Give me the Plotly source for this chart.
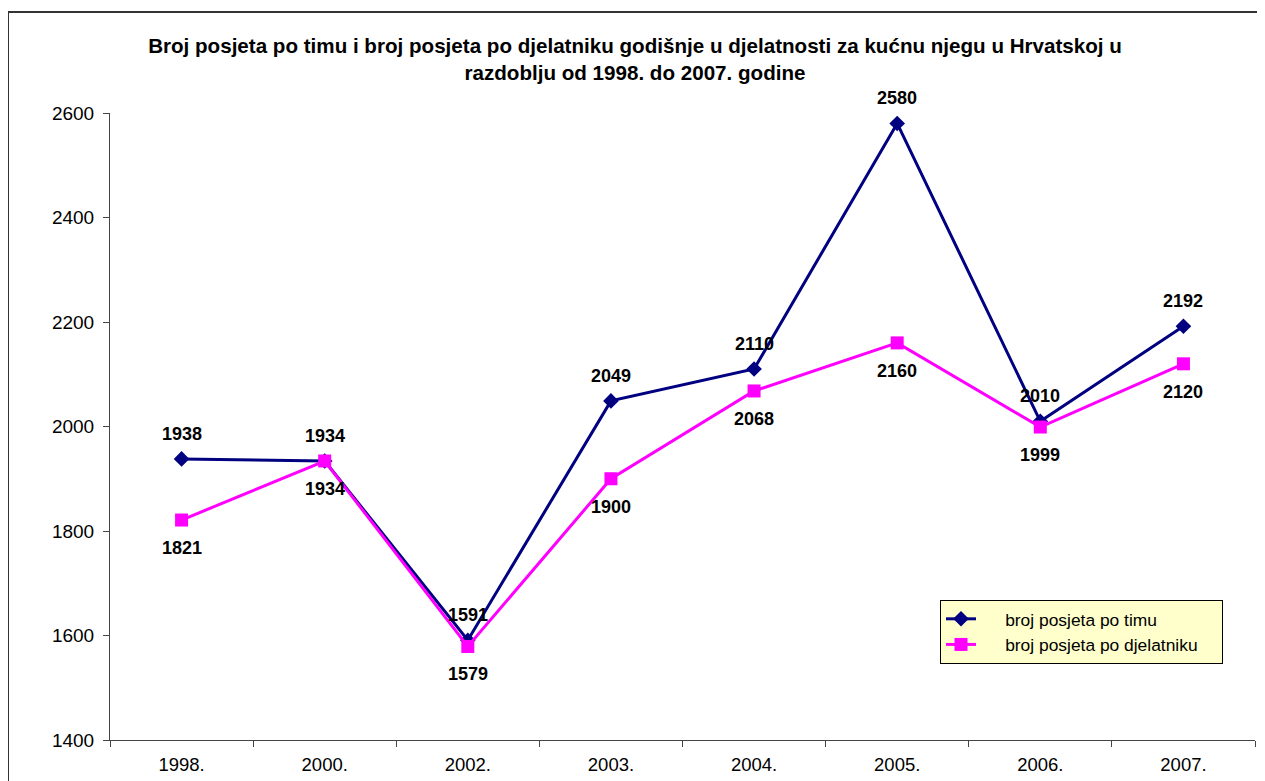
import plotly.graph_objects as go

categories = ["1998.", "2000.", "2002.", "2003.", "2004.", "2005.", "2006.", "2007."]
po_timu = [1938, 1934, 1591, 2049, 2110, 2580, 2010, 2192]
po_djelatniku = [1821, 1934, 1579, 1900, 2068, 2160, 1999, 2120]
y_ticks = [1400, 1600, 1800, 2000, 2200, 2400, 2600]
series_names = ["broj posjeta po timu", "broj posjeta po djelatniku"]

# page body has an 8px margin, so the figure is sized/offset accordingly
W, H = 1257, 773
L, R, T, B = 102, 10, 105, 41
pw = W - L - R
ph = H - T - B

lbl_font = dict(family="Liberation Sans, Arial", size=18, color="black", weight="bold")
pad_l = "\u00a0" * 5
pad_r = "\u00a0" * 4

fig = go.Figure()
fig.add_trace(go.Scatter(
    x=categories, y=po_timu, name=pad_l + series_names[0] + pad_r,
    mode="lines+markers",
    line=dict(color="#000080", width=3),
    marker=dict(symbol="diamond", size=12, color="#000080"),
    cliponaxis=False,
))
fig.add_trace(go.Scatter(
    x=categories, y=po_djelatniku, name=pad_l + series_names[1] + pad_r,
    mode="lines+markers",
    line=dict(color="#FF00FF", width=3),
    marker=dict(symbol="square", size=13, color="#FF00FF"),
    cliponaxis=False,
))

annotations = []
for i, v in enumerate(po_timu):
    annotations.append(dict(x=i, y=v, xref="x", yref="y", text="<b>%d</b>" % v,
                            showarrow=False, yshift=25, font=lbl_font,
                            xanchor="center", yanchor="middle"))
for i, v in enumerate(po_djelatniku):
    annotations.append(dict(x=i, y=v, xref="x", yref="y", text="<b>%d</b>" % v,
                            showarrow=False, yshift=-28, font=lbl_font,
                            xanchor="center", yanchor="middle"))

# outer chart border (top-left corner visible, right/bottom run off the page)
fig.add_shape(type="rect", xref="paper", yref="paper",
              x0=(0 - L) / pw, x1=(W + 30 - L) / pw,
              y0=-(B + 30) / ph, y1=(ph + T - 4) / ph,
              line=dict(color="#333333", width=2), layer="below")

fig.update_layout(
    width=W, height=H,
    margin=dict(l=L, r=R, t=T, b=B, autoexpand=False),
    paper_bgcolor="white", plot_bgcolor="white",
    font=dict(family="Liberation Sans, Arial", size=18, color="black"),
    title=dict(
        text="<b>Broj posjeta po timu i broj posjeta po djelatniku godišnje u djelatnosti za kućnu njegu u Hrvatskoj u<br>razdoblju od 1998. do 2007. godine</b>",
        x=627 / W, xanchor="center", y=(H - 45) / H, yanchor="middle",
        font=dict(size=20.6, family="Liberation Sans, Arial"),
    ),
    annotations=annotations,
    showlegend=True,
    legend=dict(
        x=(932 - L) / pw, y=(H - B - 592) / ph, xanchor="left", yanchor="top",
        bgcolor="#FFFFCC", bordercolor="black", borderwidth=1,
        font=dict(size=17.4),
    ),
    xaxis=dict(
        type="category", range=[-0.5, 7.5], tickson="boundaries",
        ticks="outside", ticklen=6, tickcolor="#444",
        showline=True, linecolor="#444", linewidth=1, showgrid=False,
        tickfont=dict(size=18.5), ticklabelstandoff=8, automargin=False,
    ),
    yaxis=dict(
        range=[1400, 2600], tickvals=y_ticks,
        ticks="outside", ticklen=6, tickcolor="#444",
        showline=True, linecolor="#444", linewidth=1, showgrid=False,
        zeroline=False, tickfont=dict(size=19), ticklabelstandoff=5,
        automargin=False,
    ),
)

fig.write_html("out.html")
